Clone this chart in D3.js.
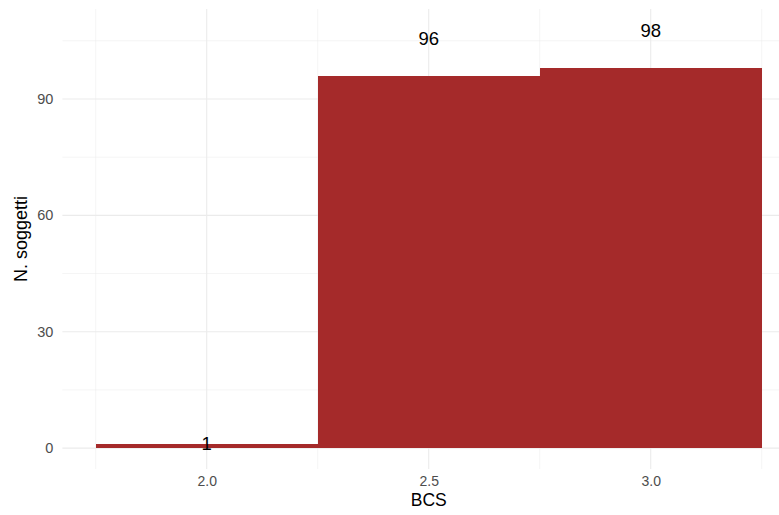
<!DOCTYPE html>
<html><head><meta charset="utf-8">
<script src="https://cdn.jsdelivr.net/npm/d3@7"></script>
<style>body{margin:0;background:#fff}svg{display:block}text{font-family:"Liberation Sans",Arial,sans-serif}</style>
</head><body><svg id="c" width="779" height="515"></svg>
<script>
const bcs = [2.0, 2.5, 3.0];
const counts = [1, 96, 98];
const xTicks = [2.0, 2.5, 3.0];
const xMinor = [1.75, 2.25, 2.75, 3.25];
const yTicks = [0, 30, 60, 90];
const yMinor = [15, 45, 75, 105];
const barWidth = 0.5;
const labelMult = 1.1;

const svg = d3.select("#c");
const panel = {l: 62.4, r: 795, t: 9, b: 469};
const xmin = d3.min(bcs) - barWidth/2, xmax = d3.max(bcs) + barWidth/2;
const xe = (xmax - xmin) * 0.05;
const x = d3.scaleLinear().domain([xmin - xe, xmax + xe]).range([panel.l, panel.r]);
const ymax = d3.max(counts) * labelMult;
const ye = ymax * 0.05;
const y = d3.scaleLinear().domain([-ye, ymax + ye]).range([panel.b, panel.t]);

const g = svg.append("g");
g.selectAll(".xm").data(xMinor).join("line")
  .attr("x1", d => x(d)).attr("x2", d => x(d)).attr("y1", panel.t).attr("y2", panel.b)
  .attr("stroke", "#ebebeb").attr("stroke-width", 0.55);
g.selectAll(".ym").data(yMinor).join("line")
  .attr("y1", d => y(d)).attr("y2", d => y(d)).attr("x1", panel.l).attr("x2", panel.r)
  .attr("stroke", "#ebebeb").attr("stroke-width", 0.55);
g.selectAll(".xM").data(xTicks).join("line")
  .attr("x1", d => x(d)).attr("x2", d => x(d)).attr("y1", panel.t).attr("y2", panel.b)
  .attr("stroke", "#ebebeb").attr("stroke-width", 1.1);
g.selectAll(".yM").data(yTicks).join("line")
  .attr("y1", d => y(d)).attr("y2", d => y(d)).attr("x1", panel.l).attr("x2", panel.r)
  .attr("stroke", "#ebebeb").attr("stroke-width", 1.1);

svg.selectAll("rect.bar").data(bcs).join("rect").attr("class", "bar")
  .attr("x", d => x(d - barWidth/2))
  .attr("width", d => x(d + barWidth/2) - x(d - barWidth/2))
  .attr("y", (d, i) => y(counts[i]))
  .attr("height", (d, i) => y(0) - y(counts[i]))
  .attr("fill", "#a52a2a").attr("shape-rendering", "crispEdges");

svg.selectAll("text.lab").data(bcs).join("text").attr("class", "lab")
  .attr("x", d => x(d)).attr("y", (d, i) => y(counts[i] * labelMult))
  .attr("dy", "0.36em").attr("text-anchor", "middle")
  .attr("font-size", 18.5).attr("fill", "#000")
  .text((d, i) => counts[i]);

const xAxis = svg.append("g").attr("transform", `translate(0,${panel.b})`)
  .call(d3.axisBottom(x).tickValues(xTicks).tickFormat(d3.format(".1f")).tickSize(0).tickPadding(0));
xAxis.select(".domain").remove();
xAxis.selectAll("text").attr("font-size", 14).attr("fill", "#4d4d4d")
  .attr("font-family", "Liberation Sans, Arial, sans-serif").attr("y", 17.3).attr("dy", null);
const yAxis = svg.append("g").attr("transform", `translate(${panel.l},0)`)
  .call(d3.axisLeft(y).tickValues(yTicks).tickSize(0).tickPadding(9));
yAxis.select(".domain").remove();
yAxis.selectAll("text").attr("font-size", 14.5).attr("fill", "#4d4d4d")
  .attr("font-family", "Liberation Sans, Arial, sans-serif");

svg.append("text").attr("x", (panel.l + panel.r)/2).attr("y", 505.5)
  .attr("text-anchor", "middle").attr("font-size", 17.5).attr("fill", "#000").text("BCS");
svg.append("text").attr("transform", `translate(27,${(panel.t + panel.b)/2}) rotate(-90)`)
  .attr("text-anchor", "middle").attr("font-size", 18).attr("fill", "#000").text("N. soggetti");
</script></body></html>
